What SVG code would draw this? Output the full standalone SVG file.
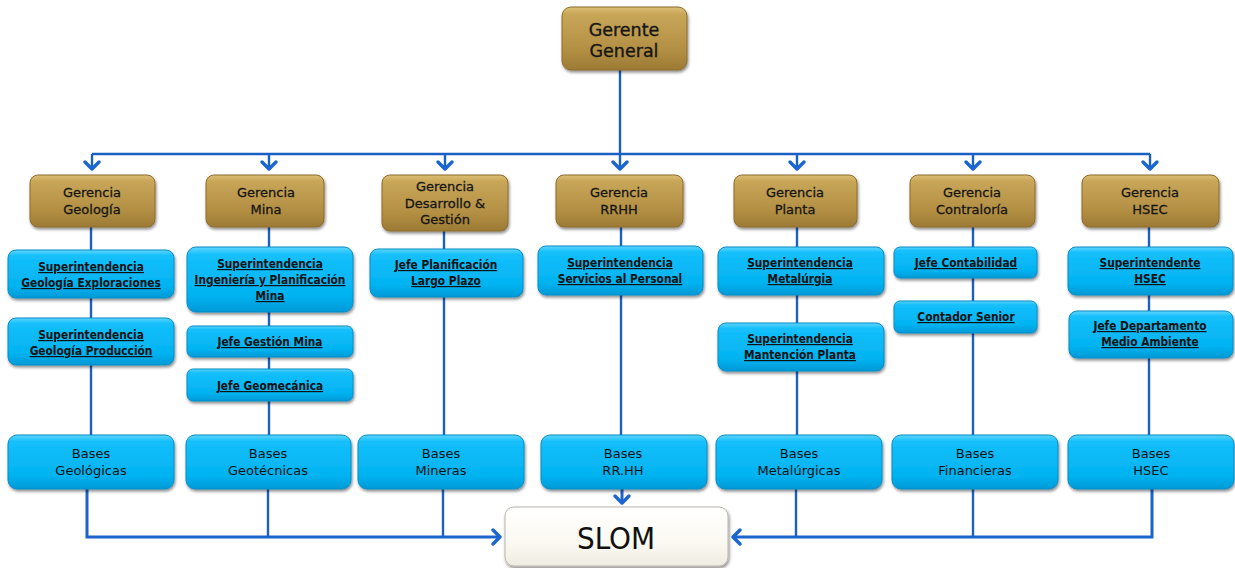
<svg xmlns="http://www.w3.org/2000/svg" width="1235" height="568" viewBox="0 0 1235 568">
  <defs>
    <linearGradient id="gold" x1="0" y1="0" x2="0" y2="1">
      <stop offset="0" stop-color="#dcbf74"/>
      <stop offset="0.12" stop-color="#c8a658"/>
      <stop offset="0.7" stop-color="#b28e43"/>
      <stop offset="1" stop-color="#9c7a34"/>
    </linearGradient>
    <linearGradient id="cyan" x1="0" y1="0" x2="0" y2="1">
      <stop offset="0" stop-color="#5fd6ff"/>
      <stop offset="0.12" stop-color="#14bffb"/>
      <stop offset="0.75" stop-color="#02b3f1"/>
      <stop offset="1" stop-color="#0399d6"/>
    </linearGradient>
    <linearGradient id="pearl" x1="0" y1="0" x2="0" y2="1">
      <stop offset="0" stop-color="#ffffff"/>
      <stop offset="0.6" stop-color="#fbf9f1"/>
      <stop offset="1" stop-color="#efece2"/>
    </linearGradient>
    <filter id="shadow" x="-10%" y="-20%" width="125%" height="150%">
      <feDropShadow dx="1" dy="2" stdDeviation="1.6" flood-color="#000" flood-opacity="0.45"/>
    </filter>
    <marker id="chev" markerUnits="userSpaceOnUse" markerWidth="18" markerHeight="18" refX="9" refY="8" orient="auto" overflow="visible">
      <path d="M2,1 L9,8 L2,15" fill="none" stroke="#1b66d2" stroke-width="3.5" stroke-linecap="round" stroke-linejoin="round"/>
    </marker>
    <style>
      .gold { fill: url(#gold); stroke: #8c6c2c; stroke-width: 1; filter: url(#shadow); }
      .cyan { fill: url(#cyan); stroke: #0b8cc4; stroke-width: 1; filter: url(#shadow); }
      .slom { fill: url(#pearl); stroke: #b9b6ad; stroke-width: 1; filter: url(#shadow); }
      .gt { font-family: "DejaVu Sans", "Liberation Sans", sans-serif; font-size: 13px; fill: #161616; stroke: #161616; stroke-width: 0.3; text-anchor: middle; }
      .top { font-family: "DejaVu Sans", "Liberation Sans", sans-serif; font-size: 17.5px; fill: #161616; stroke: #161616; stroke-width: 0.35; text-anchor: middle; }
      .bt { font-family: "DejaVu Sans Condensed", "DejaVu Sans", "Liberation Sans", sans-serif; font-stretch: condensed; font-weight: bold; font-size: 11.8px; fill: #111; text-anchor: middle; text-decoration: underline; }
      .base { font-family: "DejaVu Sans", "Liberation Sans", sans-serif; font-size: 13px; fill: #111; text-anchor: middle; }
      .big { font-family: "DejaVu Sans Condensed", "DejaVu Sans", "Liberation Sans", sans-serif; font-stretch: condensed; font-size: 31px; fill: #111; text-anchor: middle; }
      .ln { fill: none; stroke: #1c60c4; stroke-width: 2.4; }
      .ln3 { fill: none; stroke: #1c64cc; stroke-width: 3; }
    </style>
  </defs>

  <rect width="1235" height="568" fill="#ffffff"/>

  <!-- connectors -->
  <g id="connectors">
    <path class="ln" d="M620,70 V154"/>
    <path class="ln" d="M92,154 H1150"/>
    <path class="ln" d="M92,154 V169" marker-end="url(#chev)"/>
    <path class="ln" d="M269,154 V169" marker-end="url(#chev)"/>
    <path class="ln" d="M445,154 V169" marker-end="url(#chev)"/>
    <path class="ln" d="M620,154 V169" marker-end="url(#chev)"/>
    <path class="ln" d="M797,154 V169" marker-end="url(#chev)"/>
    <path class="ln" d="M973,154 V169" marker-end="url(#chev)"/>
    <path class="ln" d="M1150,154 V169" marker-end="url(#chev)"/>
    <!-- column spines -->
    <path class="ln" d="M91,227 V435"/>
    <path class="ln" d="M269,227 V435"/>
    <path class="ln" d="M444,231 V435"/>
    <path class="ln" d="M621,227 V435"/>
    <path class="ln" d="M797,227 V435"/>
    <path class="ln" d="M973,227 V435"/>
    <path class="ln" d="M1149,227 V435"/>
    <!-- feeds into SLOM -->
    <path class="ln3" d="M87,489 V537 H500" marker-end="url(#chev)"/>
    <path class="ln" d="M268,489 V537"/>
    <path class="ln" d="M443,489 V537"/>
    <path class="ln3" d="M622,489 V503" marker-end="url(#chev)"/>
    <path class="ln3" d="M1152,489 V537 H733" marker-end="url(#chev)"/>
    <path class="ln" d="M796,489 V537"/>
    <path class="ln" d="M973,489 V537"/>
  </g>

  <!-- top -->
  <g id="gerente-general">
    <rect class="gold" x="562" y="7" width="125" height="63" rx="9"/>
    <text class="top" x="624" y="36">Gerente</text>
    <text class="top" x="624" y="57">General</text>
  </g>

  <!-- management row -->
  <g id="g-geologia">
    <rect class="gold" x="30" y="175" width="125" height="52" rx="8"/>
    <text class="gt" x="92" y="197">Gerencia</text>
    <text class="gt" x="92" y="214">Geología</text>
  </g>
  <g id="g-mina">
    <rect class="gold" x="206" y="175" width="118" height="52" rx="8"/>
    <text class="gt" x="266" y="197">Gerencia</text>
    <text class="gt" x="266" y="214">Mina</text>
  </g>
  <g id="g-desarrollo">
    <rect class="gold" x="382" y="175" width="126" height="56" rx="8"/>
    <text class="gt" x="445" y="191">Gerencia</text>
    <text class="gt" x="445" y="208">Desarrollo &amp;</text>
    <text class="gt" x="445" y="224">Gestión</text>
  </g>
  <g id="g-rrhh">
    <rect class="gold" x="556" y="175" width="127" height="52" rx="8"/>
    <text class="gt" x="619" y="197">Gerencia</text>
    <text class="gt" x="619" y="214">RRHH</text>
  </g>
  <g id="g-planta">
    <rect class="gold" x="734" y="175" width="123" height="52" rx="8"/>
    <text class="gt" x="795" y="197">Gerencia</text>
    <text class="gt" x="795" y="214">Planta</text>
  </g>
  <g id="g-contraloria">
    <rect class="gold" x="910" y="175" width="125" height="52" rx="8"/>
    <text class="gt" x="972" y="197">Gerencia</text>
    <text class="gt" x="972" y="214">Contraloría</text>
  </g>
  <g id="g-hsec">
    <rect class="gold" x="1082" y="175" width="137" height="52" rx="8"/>
    <text class="gt" x="1150" y="197">Gerencia</text>
    <text class="gt" x="1150" y="214">HSEC</text>
  </g>

  <!-- Geología column -->
  <g id="sup-geo-exploraciones">
    <rect class="cyan" x="8" y="250" width="166" height="48" rx="8"/>
    <text class="bt" x="91" y="271">Superintendencia</text>
    <text class="bt" x="91" y="287">Geología Exploraciones</text>
  </g>
  <g id="sup-geo-produccion">
    <rect class="cyan" x="8" y="318" width="166" height="47" rx="8"/>
    <text class="bt" x="91" y="339">Superintendencia</text>
    <text class="bt" x="91" y="355">Geología Producción</text>
  </g>

  <!-- Mina column -->
  <g id="sup-ingenieria">
    <rect class="cyan" x="187" y="247" width="166" height="65" rx="9"/>
    <text class="bt" x="270" y="268">Superintendencia</text>
    <text class="bt" x="270" y="284">Ingeniería y Planificación</text>
    <text class="bt" x="270" y="300">Mina</text>
  </g>
  <g id="jefe-gestion-mina">
    <rect class="cyan" x="187" y="326" width="166" height="31" rx="6"/>
    <text class="bt" x="270" y="346">Jefe Gestión Mina</text>
  </g>
  <g id="jefe-geomecanica">
    <rect class="cyan" x="187" y="369" width="166" height="32" rx="6"/>
    <text class="bt" x="270" y="390">Jefe Geomecánica</text>
  </g>

  <!-- Desarrollo column -->
  <g id="jefe-planificacion">
    <rect class="cyan" x="370" y="249" width="153" height="48" rx="8"/>
    <text class="bt" x="446" y="269">Jefe Planificación</text>
    <text class="bt" x="446" y="285"> Largo Plazo</text>
  </g>

  <!-- RRHH column -->
  <g id="sup-servicios">
    <rect class="cyan" x="538" y="246" width="165" height="49" rx="8"/>
    <text class="bt" x="620" y="267">Superintendencia</text>
    <text class="bt" x="620" y="283">Servicios al Personal</text>
  </g>

  <!-- Planta column -->
  <g id="sup-metalurgia">
    <rect class="cyan" x="718" y="247" width="166" height="48" rx="8"/>
    <text class="bt" x="800" y="267">Superintendencia</text>
    <text class="bt" x="800" y="283">Metalúrgia</text>
  </g>
  <g id="sup-mantencion">
    <rect class="cyan" x="718" y="323" width="166" height="48" rx="8"/>
    <text class="bt" x="800" y="343">Superintendencia</text>
    <text class="bt" x="800" y="359">Mantención Planta</text>
  </g>

  <!-- Contraloría column -->
  <g id="jefe-contabilidad">
    <rect class="cyan" x="894" y="247" width="143" height="31" rx="6"/>
    <text class="bt" x="966" y="267">Jefe Contabilidad</text>
  </g>
  <g id="contador-senior">
    <rect class="cyan" x="894" y="301" width="143" height="32" rx="6"/>
    <text class="bt" x="966" y="321">Contador Senior</text>
  </g>

  <!-- HSEC column -->
  <g id="sup-hsec">
    <rect class="cyan" x="1068" y="247" width="165" height="48" rx="8"/>
    <text class="bt" x="1150" y="267">Superintendente</text>
    <text class="bt" x="1150" y="283">HSEC</text>
  </g>
  <g id="jefe-medio-ambiente">
    <rect class="cyan" x="1069" y="311" width="164" height="47" rx="8"/>
    <text class="bt" x="1150" y="330">Jefe Departamento</text>
    <text class="bt" x="1150" y="346">Medio Ambiente</text>
  </g>

  <!-- data bases row -->
  <g id="bases-geologicas">
    <rect class="cyan" x="8" y="435" width="166" height="54" rx="9"/>
    <text class="base" x="91" y="458">Bases</text>
    <text class="base" x="91" y="475">Geológicas</text>
  </g>
  <g id="bases-geotecnicas">
    <rect class="cyan" x="186" y="435" width="165" height="54" rx="9"/>
    <text class="base" x="268" y="458">Bases</text>
    <text class="base" x="268" y="475">Geotécnicas</text>
  </g>
  <g id="bases-mineras">
    <rect class="cyan" x="358" y="435" width="166" height="54" rx="9"/>
    <text class="base" x="441" y="458">Bases</text>
    <text class="base" x="441" y="475">Mineras</text>
  </g>
  <g id="bases-rrhh">
    <rect class="cyan" x="541" y="435" width="166" height="54" rx="9"/>
    <text class="base" x="623" y="458">Bases</text>
    <text class="base" x="623" y="475">RR.HH</text>
  </g>
  <g id="bases-metalurgicas">
    <rect class="cyan" x="716" y="435" width="166" height="54" rx="9"/>
    <text class="base" x="799" y="458">Bases</text>
    <text class="base" x="799" y="475">Metalúrgicas</text>
  </g>
  <g id="bases-financieras">
    <rect class="cyan" x="892" y="435" width="166" height="54" rx="9"/>
    <text class="base" x="975" y="458">Bases</text>
    <text class="base" x="975" y="475">Financieras</text>
  </g>
  <g id="bases-hsec">
    <rect class="cyan" x="1068" y="435" width="166" height="54" rx="9"/>
    <text class="base" x="1151" y="458">Bases</text>
    <text class="base" x="1151" y="475">HSEC</text>
  </g>

  <!-- system -->
  <g id="slom">
    <rect class="slom" x="505" y="507" width="223" height="59" rx="9"/>
    <text class="big" x="616" y="549">SLOM</text>
  </g>
</svg>
